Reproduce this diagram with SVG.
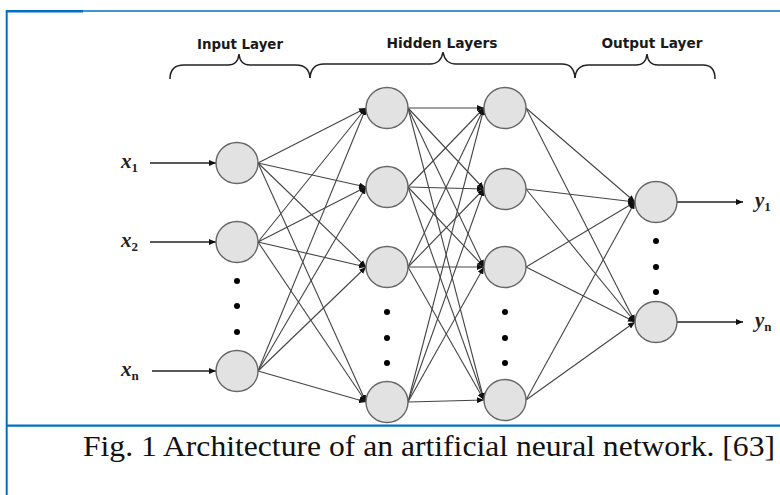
<svg xmlns="http://www.w3.org/2000/svg" width="780" height="495" viewBox="0 0 780 495">
<defs>
<marker id="ah" viewBox="0 0 7 6" refX="7" refY="3" markerWidth="7" markerHeight="6" markerUnits="userSpaceOnUse" orient="auto">
<path d="M0,0 L7,3 L0,6 z" fill="#111"/>
</marker>
<style>
.n{fill:#e2e2e2;stroke:#666;stroke-width:1.4}
.e line{stroke:#444;stroke-width:1.1;marker-end:url(#ah)}
.io line{stroke:#222;stroke-width:1.5;marker-end:url(#ah)}
.d{fill:#000}
.lbl{font-family:"DejaVu Sans",sans-serif;font-weight:bold;font-size:14px;fill:#1a1a1a;text-anchor:middle}
.m{font-family:"Liberation Serif",serif;font-weight:bold;font-style:italic;font-size:21px;fill:#222}
.sub{font-style:normal;font-size:13px}
.br{fill:none;stroke:#222;stroke-width:1.5}
.blue{stroke:#0070C0;fill:none}
.cap{font-family:"Liberation Serif","Times New Roman",serif;font-size:30px;fill:#111}
</style>
</defs>
<g id="frame">
<line class="blue" x1="6.7" y1="10" x2="6.7" y2="495" stroke-width="2"/>
<line class="blue" x1="6" y1="11.2" x2="83" y2="11.2" stroke-width="2.6"/>
<line class="blue" x1="83" y1="11" x2="780" y2="11" stroke-width="1.4"/>
<line class="blue" x1="6" y1="425.7" x2="780" y2="425.7" stroke-width="2.2"/>
</g>
<g id="headers">
<text class="lbl" x="240" y="49" textLength="86" lengthAdjust="spacingAndGlyphs">Input Layer</text>
<text class="lbl" x="442" y="48" textLength="111" lengthAdjust="spacingAndGlyphs">Hidden Layers</text>
<text class="lbl" x="652" y="48" textLength="101" lengthAdjust="spacingAndGlyphs">Output Layer</text>
</g>
<g id="braces">
<path class="br" d="M170,79 Q170,65 184,65 L228,65 Q238,65 239,54 Q240,65 250,65 L296,65 Q309,65 310,78"/>
<path class="br" d="M310,78 Q311,64 324,64 L430,64 Q441,64 443,52 Q445,64 456,64 L562,64 Q574,64 575,78"/>
<path class="br" d="M575,78 Q576,65 589,65 L636,65 Q646,65 647,54 Q648,65 658,65 L703,65 Q715,65 715,79"/>
</g>
<g id="connectors">
<g class="io">
<line x1="150" y1="163" x2="216" y2="163"/>
<line x1="150" y1="242" x2="216" y2="242"/>
<line x1="152" y1="371" x2="216" y2="371"/>
<line x1="677" y1="202" x2="743" y2="202"/>
<line x1="677" y1="322" x2="743" y2="322"/>
</g>
<g class="e">
<line x1="258" y1="163" x2="366" y2="108"/>
<line x1="258" y1="163" x2="366" y2="187"/>
<line x1="258" y1="163" x2="366" y2="267"/>
<line x1="258" y1="163" x2="366" y2="402"/>
<line x1="258" y1="242" x2="366" y2="108"/>
<line x1="258" y1="242" x2="366" y2="187"/>
<line x1="258" y1="242" x2="366" y2="267"/>
<line x1="258" y1="242" x2="366" y2="402"/>
<line x1="258" y1="371" x2="366" y2="108"/>
<line x1="258" y1="371" x2="366" y2="187"/>
<line x1="258" y1="371" x2="366" y2="267"/>
<line x1="258" y1="371" x2="366" y2="402"/>

<line x1="408" y1="108" x2="484" y2="108"/>
<line x1="408" y1="108" x2="484" y2="189"/>
<line x1="408" y1="108" x2="484" y2="267"/>
<line x1="408" y1="108" x2="484" y2="400"/>
<line x1="408" y1="187" x2="484" y2="108"/>
<line x1="408" y1="187" x2="484" y2="189"/>
<line x1="408" y1="187" x2="484" y2="267"/>
<line x1="408" y1="187" x2="484" y2="400"/>
<line x1="408" y1="267" x2="484" y2="108"/>
<line x1="408" y1="267" x2="484" y2="189"/>
<line x1="408" y1="267" x2="484" y2="267"/>
<line x1="408" y1="267" x2="484" y2="400"/>
<line x1="408" y1="402" x2="484" y2="108"/>
<line x1="408" y1="402" x2="484" y2="189"/>
<line x1="408" y1="402" x2="484" y2="267"/>
<line x1="408" y1="402" x2="484" y2="400"/>

<line x1="526" y1="108" x2="635" y2="202"/>
<line x1="526" y1="108" x2="635" y2="322"/>
<line x1="526" y1="189" x2="635" y2="202"/>
<line x1="526" y1="189" x2="635" y2="322"/>
<line x1="526" y1="267" x2="635" y2="202"/>
<line x1="526" y1="267" x2="635" y2="322"/>
<line x1="526" y1="400" x2="635" y2="202"/>
<line x1="526" y1="400" x2="635" y2="322"/>
</g>
</g>
<g id="input-layer">
<g id="i1"><ellipse class="n" cx="237" cy="163" rx="21" ry="20.5"/></g>
<g id="i2"><ellipse class="n" cx="237" cy="242" rx="21" ry="20.5"/></g>
<g id="in"><ellipse class="n" cx="237" cy="371" rx="21" ry="20.5"/></g>
<circle class="d" cx="237" cy="281" r="3"/>
<circle class="d" cx="237" cy="306" r="3"/>
<circle class="d" cx="237" cy="332" r="3"/>
</g>
<g id="hidden-layer-1">
<g id="h11"><ellipse class="n" cx="387" cy="108" rx="21" ry="20.5"/></g>
<g id="h12"><ellipse class="n" cx="387" cy="187" rx="21" ry="20.5"/></g>
<g id="h13"><ellipse class="n" cx="387" cy="267" rx="21" ry="20.5"/></g>
<g id="h1n"><ellipse class="n" cx="387" cy="402" rx="21" ry="20.5"/></g>
<circle class="d" cx="387" cy="312" r="3"/>
<circle class="d" cx="387" cy="338" r="3"/>
<circle class="d" cx="387" cy="363" r="3"/>
</g>
<g id="hidden-layer-2">
<g id="h21"><ellipse class="n" cx="505" cy="108" rx="21" ry="20.5"/></g>
<g id="h22"><ellipse class="n" cx="505" cy="189" rx="21" ry="20.5"/></g>
<g id="h23"><ellipse class="n" cx="505" cy="267" rx="21" ry="20.5"/></g>
<g id="h2n"><ellipse class="n" cx="505" cy="400" rx="21" ry="20.5"/></g>
<circle class="d" cx="505" cy="312" r="3"/>
<circle class="d" cx="505" cy="338" r="3"/>
<circle class="d" cx="505" cy="363" r="3"/>
</g>
<g id="output-layer">
<g id="o1"><ellipse class="n" cx="656" cy="202" rx="21" ry="20.5"/></g>
<g id="on"><ellipse class="n" cx="656" cy="322" rx="21" ry="20.5"/></g>
<circle class="d" cx="656" cy="241" r="3"/>
<circle class="d" cx="656" cy="267" r="3"/>
<circle class="d" cx="656" cy="292" r="3"/>
</g>
<g id="labels">
<text class="m" x="121" y="168">x<tspan class="sub" dy="4">1</tspan></text>
<text class="m" x="121" y="247">x<tspan class="sub" dy="4">2</tspan></text>
<text class="m" x="121" y="376">x<tspan class="sub" dy="4">n</tspan></text>
<text class="m" x="755" y="207">y<tspan class="sub" dy="4">1</tspan></text>
<text class="m" x="755" y="327">y<tspan class="sub" dy="4">n</tspan></text>
</g>
<g id="caption">
<text class="cap" x="83" y="456" textLength="692" lengthAdjust="spacingAndGlyphs">Fig. 1 Architecture of an artificial neural network. [63]</text>
</g>
</svg>
